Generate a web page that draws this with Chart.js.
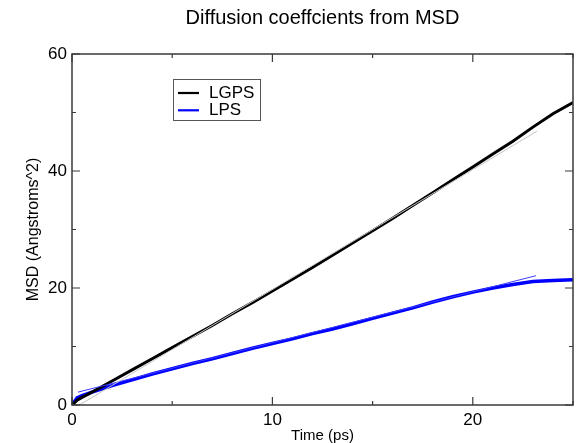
<!DOCTYPE html>
<html>
<head>
<meta charset="utf-8">
<script src="https://cdn.jsdelivr.net/npm/chart.js@4.4.1/dist/chart.umd.min.js"></script>
<style>
  html, body { margin:0; padding:0; background:#fff; }
  #wrap { width:578px; height:443px; }
</style>
</head>
<body>
<div id="wrap"><canvas id="msdChart"></canvas></div>
<script>
// MSD curves (time in ps, MSD in Angstroms^2)
const time    = [0, 0.25, 0.5, 1, 2, 3, 4, 5, 6, 7, 8, 9, 10, 11, 12, 13, 14, 15, 16, 17, 18, 19, 20, 21, 22, 23, 24, 25];
const msdLGPS = [0, 0.8, 1.3, 2.2, 4.1, 6.0, 7.9, 9.8, 11.7, 13.6, 15.6, 17.5, 19.5, 21.5, 23.5, 25.6, 27.7, 29.8, 31.9, 34.1, 36.3, 38.5, 40.7, 42.9, 45.1, 47.5, 49.8, 51.7];
const msdLPS  = [0, 1.2, 1.6, 2.2, 3.3, 4.3, 5.3, 6.2, 7.1, 7.9, 8.8, 9.7, 10.5, 11.3, 12.2, 13.0, 13.9, 14.8, 15.7, 16.6, 17.6, 18.5, 19.3, 20.0, 20.6, 21.1, 21.3, 21.4];

// linear fits (end points)
const fitTimeLGPS = [0.37, 23.2];
const fitLGPS     = [0, 46.8];
const fitTimeLPS  = [0.3, 23.15];
const fitLPS      = [2.2, 22.1];

const xMajor = [0, 10, 20];
const yMajor = [0, 20, 40, 60];
const legendNames = ['LGPS', 'LPS'];
const legendColors = ['#000000', '#0000ff'];

const FONT = '"Liberation Sans", Arial, Helvetica, sans-serif';
const pts = (xs, ys) => xs.map((x, i) => ({ x, y: ys[i] }));

// frame on all 4 sides with inward ticks, plus the boxed legend
const framePlugin = {
  id: 'frame',
  afterDraw(chart) {
    const { ctx, chartArea: a, scales: { x, y } } = chart;
    ctx.save();
    ctx.strokeStyle = '#3a3a3a';
    ctx.lineWidth = 1.5;
    ctx.strokeRect(a.left, a.top, a.right - a.left, a.bottom - a.top);
    ctx.lineWidth = 1.2;
    ctx.beginPath();
    x.ticks.forEach(t => {
      const px = x.getPixelForValue(t.value);
      const len = xMajor.includes(t.value) ? 8 : 4;
      ctx.moveTo(px, a.bottom); ctx.lineTo(px, a.bottom - len);
      ctx.moveTo(px, a.top);    ctx.lineTo(px, a.top + len);
    });
    y.ticks.forEach(t => {
      const py = y.getPixelForValue(t.value);
      const len = yMajor.includes(t.value) ? 8 : 4;
      ctx.moveTo(a.left, py);  ctx.lineTo(a.left + len, py);
      ctx.moveTo(a.right, py); ctx.lineTo(a.right - len, py);
    });
    ctx.stroke();

    const bx = a.left + 101, by = a.top + 25;
    ctx.lineWidth = 1;
    ctx.strokeStyle = '#555';
    ctx.strokeRect(bx + 0.5, by + 0.5, 87, 41);
    ctx.font = '17px ' + FONT;
    ctx.fillStyle = '#000';
    ctx.textBaseline = 'alphabetic';
    legendNames.forEach((name, i) => {
      const ly = by + 14 + i * 17.3;
      ctx.strokeStyle = legendColors[i];
      ctx.lineWidth = 2.2;
      ctx.beginPath();
      ctx.moveTo(bx + 5, ly); ctx.lineTo(bx + 26, ly);
      ctx.stroke();
      ctx.fillText(name, bx + 36, ly + 5);
    });
    ctx.restore();
  }
};

new Chart(document.getElementById('msdChart'), {
  type: 'line',
  data: {
    datasets: [
      { label: 'LGPS fit', data: pts(fitTimeLGPS, fitLGPS), borderColor: '#c4c4c4', borderWidth: 1, order: 0 },
      { label: 'LPS fit',  data: pts(fitTimeLPS, fitLPS),   borderColor: '#3a3aff', borderWidth: 1, order: 0 },
      { label: 'LGPS', data: pts(time, msdLGPS), borderColor: '#000000', borderWidth: 3, order: 1 },
      { label: 'LPS',  data: pts(time, msdLPS),  borderColor: '#0000ff', borderWidth: 3.5, order: 1 },
    ]
  },
  options: {
    responsive: true,
    maintainAspectRatio: false,
    animation: false,
    elements: { point: { radius: 0 }, line: { tension: 0 } },
    layout: { padding: { left: 0, right: 5, top: 0, bottom: 0 } },
    plugins: {
      legend: { display: false },
      tooltip: { enabled: false },
      title: {
        display: true,
        fullSize: false,
        text: 'Diffusion coeffcients from MSD',
        color: '#000',
        font: { family: FONT, size: 20, weight: 'normal', lineHeight: 1.2 },
        padding: { top: 6, bottom: 24 }
      }
    },
    scales: {
      x: {
        type: 'linear', min: 0, max: 25,
        grid: { display: false, drawTicks: false },
        border: { display: false },
        afterFit: s => { s.height = 38; },
        ticks: {
          stepSize: 5, color: '#000', padding: 5,
          font: { family: FONT, size: 17 },
          callback: v => xMajor.includes(v) ? String(v) : ''
        },
        title: {
          display: true, text: 'Time (ps)', color: '#000',
          font: { family: FONT, size: 15, lineHeight: 1 },
          padding: { top: 0, bottom: 0 }
        }
      },
      y: {
        type: 'linear', min: 0, max: 60,
        grid: { display: false, drawTicks: false },
        border: { display: false },
        afterFit: s => { s.width = 72; },
        ticks: {
          stepSize: 10, color: '#000', padding: 5,
          font: { family: FONT, size: 17 },
          callback: v => yMajor.includes(v) ? String(v) : ''
        },
        title: {
          display: true, text: 'MSD (Angstroms^2)', color: '#000',
          font: { family: FONT, size: 16, lineHeight: 1.2 },
          padding: { top: 24, bottom: 0 }
        }
      }
    }
  },
  plugins: [framePlugin]
});
</script>
</body>
</html>
